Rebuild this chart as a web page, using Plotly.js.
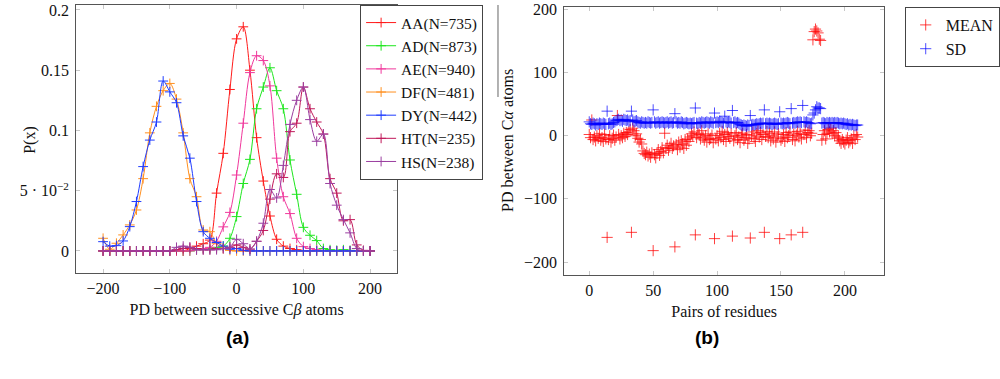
<!DOCTYPE html>
<html><head><meta charset="utf-8">
<script src="https://cdn.plot.ly/plotly-3.0.1.min.js"></script>
<style>html,body{margin:0;padding:0;background:#fff}#c{width:1000px;height:379px}
.xtick text,.ytick text,.x2tick text,.y2tick text{font-family:'Liberation Serif','Times New Roman',serif !important}</style>
</head><body><div id="c"></div>
<script>
// ---------- Panel (a): distributions ----------
const pdX = [-200,-190,-180,-170,-160,-150,-140,-130,-120,-110,-100,-90,-80,-70,-60,-50,-40,-30,-20,-10,0,10,20,30,40,50,60,70,80,90,100,110,120,130,140,150,160,170,180,190,200];
const AA = [0,0,0,0,0,0,0,0,0,0,0,0,0,0.002,0.004,0.006,0.009,0.048,0.081,0.134,0.176,0.186,0.150,0.094,0.058,0.029,0.0097,0.004,0.002,0.001,0,0,0,0,0,0,0,0,0,0,0];
const AD = [0,0,0,0,0,0,0,0,0,0,0,0,0,0,0.001,0.002,0.002,0.003,0.004,0.0105,0.0285,0.056,0.076,0.118,0.136,0.152,0.133,0.118,0.0755,0.047,0.0196,0.013,0.0086,0.002,0.001,0.0005,0.001,0.0005,0,0,0];
const AE = [0,0,0,0,0,0,0,0,0,0,0,0,0,0,0.001,0.002,0.003,0.008,0.020,0.032,0.063,0.106,0.148,0.162,0.158,0.137,0.077,0.045,0.031,0.0105,0.0036,0.002,0.001,0,0,0,0,0,0,0,0];
const DF = [0.0105,0.0014,0.0064,0.0133,0.0216,0.034,0.060,0.098,0.120,0.133,0.139,0.126,0.098,0.060,0.045,0.0174,0.016,0.006,0.002,0.0005,0,0,0,0,0,0,0,0,0,0,0,0,0,0,0,0,0,0,0,0,0];
const DY = [0.0077,0.0040,0.0044,0.0083,0.0202,0.041,0.070,0.092,0.107,0.141,0.132,0.123,0.0955,0.077,0.041,0.016,0.0105,0.007,0.004,0.0015,0.002,0.0005,0,0,0,0,0,0,0,0,0,0,0,0,0,0,0,0,0,0,0];
const HT = [0,0,0,0,0,0,0,0,0,0,0,0.001,0.002,0.003,0.002,0.001,0.001,0.002,0.002,0.003,0.005,0.003,0.0015,0.008,0.017,0.043,0.064,0.061,0.099,0.106,0.136,0.118,0.107,0.097,0.060,0.048,0.025,0.026,0.005,0.0005,0];
const HS = [0,0,0,0,0,0,0,0,0,0,0,0.003,0.004,0.003,0.001,0.001,0.001,0.001,0.002,0.003,0.0097,0.006,0.0015,0.008,0.023,0.051,0.044,0.071,0.105,0.125,0.136,0.109,0.091,0.097,0.056,0.038,0.026,0.015,0.002,0,0];
const seriesNames = ['AA(N=735)','AD(N=873)','AE(N=940)','DF(N=481)','DY(N=442)','HT(N=235)','HS(N=238)'];
const seriesData = [AA, AD, AE, DF, DY, HT, HS];
const seriesColors = ['#ff1a1a','#1ee61e','#f0389c','#ff8f1f','#1f3cff','#c0185a','#9b3fa0'];
const yTickVals = [0, 0.05, 0.1, 0.15, 0.2];
const yTickText = ['0', '5 · 10<sup>−2</sup>', '0.1', '0.15', '0.2'];

// ---------- Panel (b): per-pair values ----------
const pairIdx = [];
for (let i = 0; i <= 210; i++) pairIdx.push(i);
const MEAN = [
 2,-3,25,-6,-2,-8,0,-4,3,-7,
 -3,-9,2,-5,-161,-6,0,-10,-4,1,
 -7,-2,32,2,-5,0,-3,4,-1,5,
 2,6,10,-153,12,8,0,3,-4,-10,
 -6,-13,-24,-28,-30,-26,-32,-29,-34,-27,
 -182,-30,-35,-28,-22,-31,-25,-19,-27,4,
 -20,-15,-23,-18,-12,-20,-16,-176,-14,-22,
 -10,-18,-8,-13,-20,-6,-15,-5,-9,-2,
 3,0,6,-157,-3,4,2,-5,8,-2,
 -7,0,-10,3,-6,-4,1,-11,-163,-5,
 0,-8,4,-3,7,-6,2,-9,5,-1,
 -4,3,-159,-8,0,5,-6,-2,-11,1,
 4,-7,-3,2,-12,-5,-162,0,6,-4,
 -9,3,8,-2,5,-6,2,-153,-1,7,
 -3,4,-8,1,-5,6,-10,-2,3,-163,
 -7,-4,2,-9,5,-3,0,6,-157,-6,
 3,-8,1,7,-2,4,-5,-153,2,9,
 -3,5,8,0,4,152,165,169,166,163,
 153,151,-7,2,8,-5,4,10,6,12,
 3,8,0,5,-4,-2,-8,-12,-6,-10,
 -13,-7,-3,-11,-8,-5,-12,0,-6,2,
 -2];
const SD = [
 22,19,18,20,19,17,19,18,20,19,
 18,20,19,18,39,19,20,18,19,21,
 22,24,25,26,24,25,23,26,25,24,
 25,23,24,39,25,22,23,24,22,21,
 20,22,21,20,21,20,22,21,20,21,
 41,22,20,21,22,20,21,22,21,20,
 21,22,20,21,22,20,21,35,22,20,
 21,20,22,21,19,20,21,20,19,20,
 19,20,21,44,20,19,21,20,22,21,
 20,21,22,21,20,22,21,20,36,21,
 22,21,23,22,21,20,31,22,21,22,
 21,20,40,21,22,20,21,20,18,17,
 16,17,16,15,17,16,32,17,18,17,
 18,19,18,19,20,19,20,41,19,20,
 19,20,19,18,19,20,19,18,19,38,
 20,19,20,19,20,21,20,19,43,20,
 21,20,21,22,21,22,21,48,22,21,
 22,21,20,19,20,33,36,41,46,44,
 44,43,20,21,20,19,21,20,21,20,
 21,20,21,20,21,20,19,20,19,20,
 19,18,19,17,18,17,18,17,16,17,
 17];

const serif = "'Liberation Serif', 'Times New Roman', serif";
const traces = [];
seriesData.forEach((d, i) => {
  traces.push({
    type: 'scatter', mode: 'lines+markers', x: pdX, y: d, name: seriesNames[i],
    xaxis: 'x', yaxis: 'y', legend: 'legend',
    line: {color: seriesColors[i], width: 1, shape: 'spline', smoothing: 0.9},
    marker: {symbol: 'cross-thin', size: 7, color: seriesColors[i], line: {width: 1, color: seriesColors[i]}}
  });
});
traces.push({
  type: 'scatter', mode: 'markers', x: pairIdx, y: MEAN, name: 'MEAN',
  xaxis: 'x2', yaxis: 'y2', legend: 'legend2',
  marker: {symbol: 'cross-thin', size: 8, color: 'rgba(255,0,0,0.75)', line: {width: 1, color: 'rgba(255,0,0,0.75)'}}
});
traces.push({
  type: 'scatter', mode: 'markers', x: pairIdx, y: SD, name: 'SD',
  xaxis: 'x2', yaxis: 'y2', legend: 'legend2',
  marker: {symbol: 'cross-thin', size: 8, color: 'rgba(0,0,255,0.7)', line: {width: 1, color: 'rgba(0,0,255,0.7)'}}
});

const H = 379, W = 1000;
const tickFont = {family: serif, size: 16, color: '#111'};
const axBase = {
  showline: true, linecolor: '#555', linewidth: 1.2, mirror: 'ticks',
  ticks: 'inside', ticklen: 4, tickcolor: '#c8c8c8', tickwidth: 1,
  showgrid: false, zeroline: false,
  tickfont: tickFont
};
const layout = {
  width: W, height: H,
  margin: {l: 0, r: 0, t: 0, b: 0},
  font: {family: serif, size: 16, color: '#111'},
  paper_bgcolor: '#fff', plot_bgcolor: '#fff',
  showlegend: true,
  xaxis: Object.assign({}, axBase, {
    domain: [77/W, 400/W], anchor: 'y', range: [-240, 240],
    tickvals: [-200, -100, 0, 100, 200], ticklabelstandoff: 1,
    title: {text: 'PD between successive C<i>β</i> atoms', font: {family: serif, size: 16, color: '#111'}, standoff: 7}
  }),
  yaxis: Object.assign({}, axBase, {
    domain: [1 - 273/H, 1 - 5/H], anchor: 'x', range: [-0.0183, 0.2041],
    tickvals: yTickVals, ticktext: yTickText, ticklabelstandoff: 3
  }),
  xaxis2: Object.assign({}, axBase, {
    domain: [569/W, 891/W], anchor: 'y2', range: [-19.4, 230.5],
    tickvals: [0, 50, 100, 150, 200], ticklabelstandoff: 1,
    title: {text: 'Pairs of residues', font: {family: serif, size: 16, color: '#111'}, standoff: 7}
  }),
  yaxis2: Object.assign({}, axBase, {
    domain: [1 - 275/H, 1 - 7/H], anchor: 'x2', range: [-220.6, 204],
    tickvals: [-200, -100, 0, 100, 200], ticklabelstandoff: 3
  }),
  legend: {
    x: 363/W, y: 1 - 5/H, xanchor: 'left', yanchor: 'top',
    bordercolor: '#444', borderwidth: 1, bgcolor: '#fff',
    font: {family: serif, size: 15.5, color: '#111'}, itemwidth: 30,
    tracegroupgap: 0
  },
  legend2: {
    x: 912/W, y: 1 - 7/H, xanchor: 'left', yanchor: 'top',
    bordercolor: '#444', borderwidth: 1, bgcolor: '#fff',
    font: {family: serif, size: 16, color: '#111'}, itemwidth: 30
  },
  annotations: [
    {text: 'P(x)', xref: 'paper', yref: 'paper', x: 19/W, y: 1 - 140/H, textangle: -90,
     showarrow: false, font: {family: serif, size: 16, color: '#111'}},
    {text: 'PD between C<i>α</i> atoms', xref: 'paper', yref: 'paper', x: 511/W, y: 1 - 140/H, textangle: -90,
     showarrow: false, font: {family: serif, size: 16, color: '#111'}},
    {text: '<b>(a)</b>', xref: 'paper', yref: 'paper', x: 226/W, y: 1 - 350/H,
     showarrow: false, font: {family: "'Liberation Sans', Arial, sans-serif", size: 19, color: '#000'}},
    {text: '<b>(b)</b>', xref: 'paper', yref: 'paper', x: 727/W, y: 1 - 350/H,
     showarrow: false, font: {family: "'Liberation Sans', Arial, sans-serif", size: 19, color: '#000'}}
  ],
  shapes: [
    {type: 'line', xref: 'paper', yref: 'paper', x0: 502/W, x1: 502/W, y0: 1 - 5/H, y1: 1 - 97/H,
     line: {color: '#999', width: 1.5}}
  ]
};
Plotly.newPlot('c', traces, layout, {staticPlot: true, displayModeBar: false});
</script>
</body></html>
